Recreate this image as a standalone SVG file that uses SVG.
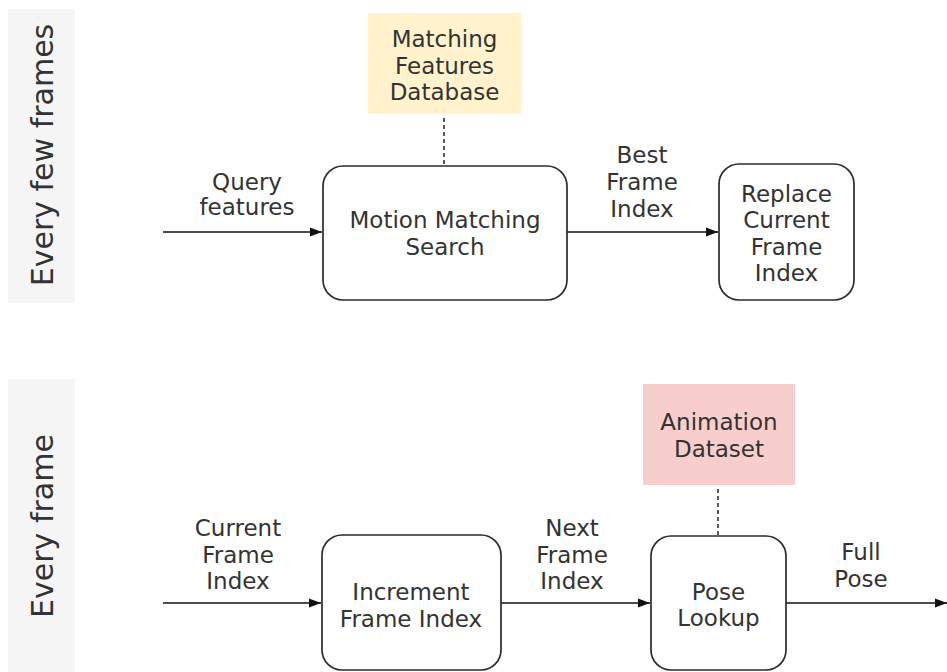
<svg xmlns="http://www.w3.org/2000/svg" width="947" height="672" viewBox="0 0 947 672">
  <style>
    .band { fill: #f5f5f5; }
    .side { font-family: "DejaVu Sans", Verdana, sans-serif; font-size: 30px; fill: #333; text-anchor: middle; }
    .lbl { font-family: "DejaVu Sans", Verdana, sans-serif; font-size: 23px; fill: #333; text-anchor: middle; }
    .box { fill: #fff; stroke: #2b2b2b; stroke-width: 1.7; }
    .store { stroke: none; }
    .edge { fill: none; stroke: #111; stroke-width: 1.6; }
    .dash { fill: none; stroke: #222; stroke-width: 1.5; stroke-dasharray: 4 3; }
  </style>
  <defs>
    <marker id="arrow" viewBox="0 0 12 10" refX="12" refY="5" markerWidth="12" markerHeight="10" markerUnits="userSpaceOnUse" orient="auto">
      <path d="M0,0.5 L12,5 L0,9.5 Z" fill="#111"/>
    </marker>
  </defs>

  <!-- lane bands -->
  <g id="lane-few">
    <rect class="band" x="8" y="9" width="67" height="294"/>
    <text class="side" transform="translate(53,155) rotate(-90)">Every few frames</text>
  </g>
  <g id="lane-every">
    <rect class="band" x="8" y="379" width="67" height="293"/>
    <text class="side" transform="translate(53,526) rotate(-90)">Every frame</text>
  </g>

  <!-- connectors -->
  <g id="connectors">
    <line class="edge" x1="163" y1="232" x2="322" y2="232" marker-end="url(#arrow)"/>
    <line class="edge" x1="567" y1="232" x2="718" y2="232" marker-end="url(#arrow)"/>
    <line class="dash" x1="444" y1="118" x2="444" y2="165"/>
    <line class="edge" x1="163" y1="603" x2="321" y2="603" marker-end="url(#arrow)"/>
    <line class="edge" x1="501" y1="603" x2="650" y2="603" marker-end="url(#arrow)"/>
    <line class="edge" x1="786" y1="603" x2="947" y2="603" marker-end="url(#arrow)"/>
    <line class="dash" x1="718" y1="489" x2="718" y2="535"/>
    <text class="lbl" x="247" y="190">Query</text>
    <text class="lbl" x="247" y="215">features</text>
    <text class="lbl" x="642" y="163">Best</text>
    <text class="lbl" x="642" y="190">Frame</text>
    <text class="lbl" x="642" y="217">Index</text>
    <text class="lbl" x="238" y="536">Current</text>
    <text class="lbl" x="238" y="562.5">Frame</text>
    <text class="lbl" x="238" y="589">Index</text>
    <text class="lbl" x="572" y="536">Next</text>
    <text class="lbl" x="572" y="562.5">Frame</text>
    <text class="lbl" x="572" y="589">Index</text>
    <text class="lbl" x="861" y="560">Full</text>
    <text class="lbl" x="861" y="587">Pose</text>
  </g>

  <!-- nodes -->
  <g id="features-db">
    <rect class="store" x="368" y="13" width="153" height="101" fill="#fff2cc"/>
    <text class="lbl" x="444.5" y="47">Matching</text>
    <text class="lbl" x="444.5" y="73.5">Features</text>
    <text class="lbl" x="444.5" y="100">Database</text>
  </g>
  <g id="search">
    <rect class="box" x="323" y="166" width="244" height="134" rx="20"/>
    <text class="lbl" x="445" y="228">Motion Matching</text>
    <text class="lbl" x="445" y="255">Search</text>
  </g>
  <g id="replace">
    <rect class="box" x="719" y="164" width="135" height="136" rx="20"/>
    <text class="lbl" x="786.5" y="201.5">Replace</text>
    <text class="lbl" x="786.5" y="228">Current</text>
    <text class="lbl" x="786.5" y="254.5">Frame</text>
    <text class="lbl" x="786.5" y="281">Index</text>
  </g>
  <g id="animation-db">
    <rect class="store" x="643" y="384" width="152" height="101" fill="#f8cecc"/>
    <text class="lbl" x="719" y="430">Animation</text>
    <text class="lbl" x="719" y="457">Dataset</text>
  </g>
  <g id="increment">
    <rect class="box" x="322" y="535" width="179" height="135" rx="20"/>
    <text class="lbl" x="411" y="600">Increment</text>
    <text class="lbl" x="411" y="626.5">Frame Index</text>
  </g>
  <g id="lookup">
    <rect class="box" x="651" y="536" width="135" height="134" rx="20"/>
    <text class="lbl" x="718.5" y="599.5">Pose</text>
    <text class="lbl" x="718.5" y="626">Lookup</text>
  </g>
</svg>
